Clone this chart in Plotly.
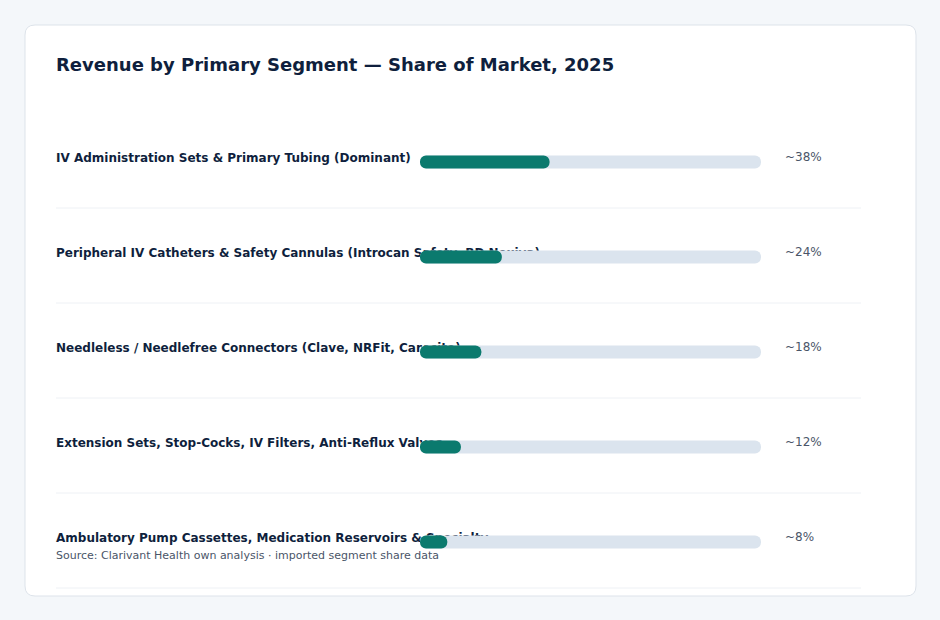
import plotly.graph_objects as go

W, H = 940, 620

categories = [
    "IV Administration Sets & Primary Tubing (Dominant)",
    "Peripheral IV Catheters & Safety Cannulas (Introcan Safety, BD Nexiva)",
    "Needleless / Needlefree Connectors (Clave, NRFit, Carecite)",
    "Extension Sets, Stop-Cocks, IV Filters, Anti-Reflux Valves",
    "Ambulatory Pump Cassettes, Medication Reservoirs & Specialty",
]
shares = [38, 24, 18, 12, 8]
value_labels = ["~38%", "~24%", "~18%", "~12%", "~8%"]
track_max = [100, 100, 100, 100, 100]

title_text = "Revenue by Primary Segment — Share of Market, 2025"
source_text = "Source: Clarivant Health own analysis · imported segment share data"

# layout geometry (pixels)
L, R, T, B = 56, 861, 113, 588
pw, ph = R - L, B - T
bar_x0, bar_x1 = 420, 761
ppu = (bar_x1 - bar_x0) / 100.0
xr = [(L - bar_x0) / ppu, (R - bar_x0) / ppu]
row_h = ph / len(categories)
bar_h = 13
bar_w = bar_h / row_h
bar_off = -bar_w / 2 + 1.5 / row_h

def px(x):
    return (x - L) / pw

def py(y):
    return (B - y) / ph

TEAL = "#0b7a6e"
TRACK = "#dbe4ee"
NAVY = "#0f1f3d"
GRAY = "#4a5568"
FONT = "DejaVu Sans"

fig = go.Figure()
fig.add_trace(go.Bar(
    y=categories, x=track_max, orientation="h", base=0,
    width=bar_w, offset=bar_off,
    marker=dict(color=TRACK, cornerradius=6, line=dict(width=0)),
    hoverinfo="skip", showlegend=False,
))
fig.add_trace(go.Bar(
    y=categories, x=shares, orientation="h", base=0,
    width=bar_w, offset=bar_off,
    marker=dict(color=TEAL, cornerradius=6, line=dict(width=0)),
    hoverinfo="skip", showlegend=False,
))

shapes = []
# card
cx0, cx1, cy0, cy1, r = 25, 916, 25, 596, 10
rx, ry = r / pw, r / ph
X0, X1, Y0, Y1 = px(cx0), px(cx1), py(cy1), py(cy0)
path = (f"M {X0+rx},{Y0} L {X1-rx},{Y0} Q {X1},{Y0} {X1},{Y0+ry} "
        f"L {X1},{Y1-ry} Q {X1},{Y1} {X1-rx},{Y1} L {X0+rx},{Y1} "
        f"Q {X0},{Y1} {X0},{Y1-ry} L {X0},{Y0+ry} Q {X0},{Y0} {X0+rx},{Y0} Z")
shapes.append(dict(type="path", xref="paper", yref="paper", path=path,
                   fillcolor="#ffffff", line=dict(color="#dde3ea", width=1),
                   layer="below"))
# separators
for i in range(len(categories)):
    yy = T + row_h * (i + 1)
    shapes.append(dict(type="line", xref="paper", yref="paper",
                       x0=0, x1=1, y0=py(yy), y1=py(yy),
                       line=dict(color="#eef1f5", width=1), layer="below"))

annotations = []
for cat, lab in zip(categories, value_labels):
    annotations.append(dict(
        x=px(783), xref="paper", y=cat, yref="y", text=lab,
        showarrow=False, xanchor="left", yanchor="middle", yshift=3.5,
        font=dict(family=FONT, size=12, color=GRAY),
    ))
annotations.append(dict(
    x=px(54), xref="paper", y=py(555.5), yref="paper", text=source_text,
    showarrow=False, xanchor="left", yanchor="middle",
    font=dict(family=FONT, size=11, color=GRAY),
))

fig.update_layout(
    width=W, height=H,
    margin=dict(l=L, r=W - R, t=T, b=H - B),
    paper_bgcolor="#f4f7fa", plot_bgcolor="rgba(0,0,0,0)",
    barmode="overlay",
    title=dict(text=title_text, x=L / W, xref="container", xanchor="left",
               y=1 - 65 / H, yref="container", yanchor="middle",
               font=dict(family=FONT, size=18, color=NAVY, weight="bold")),
    xaxis=dict(range=xr, visible=False, fixedrange=True),
    yaxis=dict(categoryorder="array", categoryarray=categories,
               range=[len(categories) - 0.5, -0.5],
               showgrid=False, zeroline=False, showline=False,
               ticks="", ticklabelposition="inside", ticklabelstandoff=-3,
               ticklabelshift=3, layer="below traces",
               tickfont=dict(family=FONT, size=12, color=NAVY, weight="bold"),
               fixedrange=True),
    shapes=shapes, annotations=annotations,
    font=dict(family=FONT),
)

fig.write_html("out.html")
